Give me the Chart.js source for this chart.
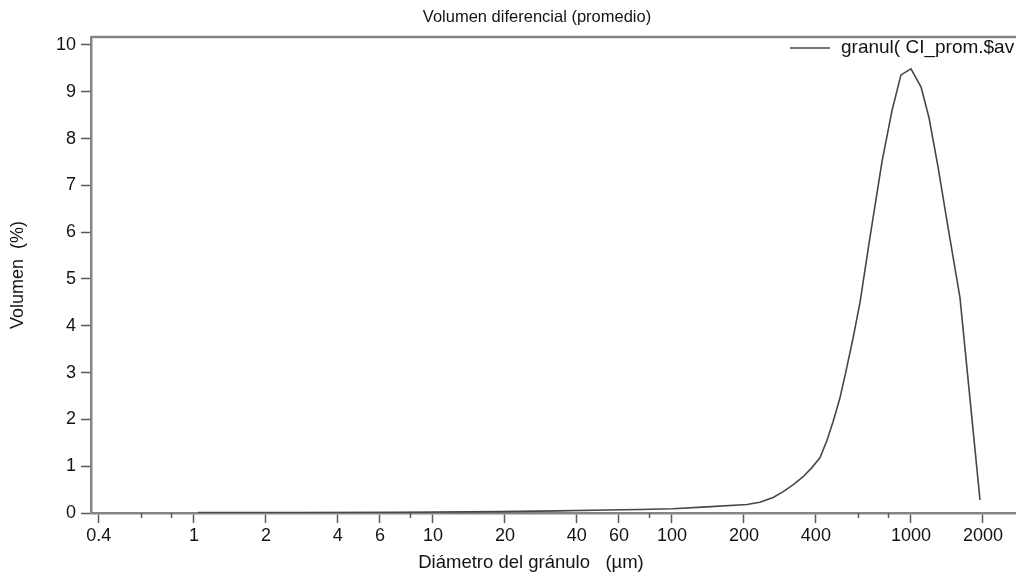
<!DOCTYPE html>
<html>
<head>
<meta charset="utf-8">
<script src="https://cdn.jsdelivr.net/npm/chart.js@4.4.1/dist/chart.umd.min.js"></script>
<style>
  html, body { margin: 0; padding: 0; background: #ffffff; overflow: hidden; }
  #wrap { width: 1016px; height: 575px; }
</style>
</head>
<body>
<div id="wrap"><canvas id="c" width="1016" height="575"></canvas></div>
<script>
// Particle size distribution: diameter (µm) vs differential volume (%)
const diameters = [1.04, 2.77, 7.3, 19.1, 33, 53.5, 73.5, 101, 140, 206, 233, 265, 291, 321, 353, 385, 416, 445, 472, 504, 533, 573, 612, 674, 756, 833, 908, 1000, 1102, 1189, 1297, 1429, 1603, 1944];
const volumePct = [0.01, 0.01, 0.015, 0.03, 0.045, 0.065, 0.075, 0.09, 0.13, 0.18, 0.23, 0.33, 0.45, 0.60, 0.77, 0.97, 1.18, 1.55, 1.95, 2.45, 3.0, 3.75, 4.5, 5.9, 7.5, 8.6, 9.36, 9.49, 9.1, 8.45, 7.4, 6.1, 4.6, 0.28];

const xMajorTicks = [0.4, 1, 2, 4, 6, 10, 20, 40, 60, 100, 200, 400, 1000, 2000];
const xMinorTicks = [0.6, 0.8, 8, 80, 600, 800];
const yTicks = [0, 1, 2, 3, 4, 5, 6, 7, 8, 9, 10];

const seriesLabel = 'granul( CI_prom.$av';
const chartTitle = 'Volumen diferencial (promedio)';
const xTitle = 'Diámetro del gránulo   (µm)';
const yTitle = 'Volumen  (%)';

const FONT = 'Liberation Sans, Arial, Helvetica, sans-serif';
const TEXT = '#141414';
const AXIS = '#858585';
const TICK = '#5a5a5a';

// Frame top edge, short minor ticks, titles and the line legend
const decor = {
  id: 'decor',
  afterDraw(chart) {
    const { ctx, chartArea: a, scales } = chart;
    ctx.save();
    // top edge of the plot frame
    ctx.strokeStyle = AXIS;
    ctx.lineWidth = 2.5;
    ctx.beginPath();
    ctx.moveTo(a.left, a.top);
    ctx.lineTo(a.right, a.top);
    ctx.stroke();

    // minor ticks on the diameter axis
    ctx.strokeStyle = TICK;
    ctx.lineWidth = 1.5;
    xMinorTicks.forEach(v => {
      const px = Math.round(scales.x.getPixelForValue(v)) + 0.5;
      ctx.beginPath();
      ctx.moveTo(px, a.bottom);
      ctx.lineTo(px, a.bottom + 5);
      ctx.stroke();
    });

    ctx.fillStyle = TEXT;
    ctx.textBaseline = 'middle';
    ctx.textAlign = 'center';
    ctx.font = '16.5px ' + FONT;
    ctx.fillText(chartTitle, 537, 17);
    ctx.font = '18.5px ' + FONT;
    ctx.fillText(xTitle, 531, 563);

    // legend: line sample followed by series name
    const ds = chart.data.datasets[0];
    const ly = a.top + 11;
    ctx.strokeStyle = ds.borderColor;
    ctx.lineWidth = ds.borderWidth;
    ctx.beginPath();
    ctx.moveTo(790, ly);
    ctx.lineTo(830, ly);
    ctx.stroke();
    ctx.textAlign = 'left';
    ctx.font = '19px ' + FONT;
    ctx.fillText(ds.label, 841, ly);
    ctx.restore();
  }
};

new Chart(document.getElementById('c'), {
  type: 'scatter',
  data: {
    datasets: [{
      label: seriesLabel,
      data: diameters.map((d, i) => ({ x: d, y: volumePct[i] })),
      showLine: true,
      borderColor: '#474747',
      borderWidth: 1.6,
      pointRadius: 0,
      tension: 0,
      fill: false
    }]
  },
  options: {
    responsive: false,
    animation: false,
    layout: { padding: { top: 37, left: 0, right: 0, bottom: 0 } },
    plugins: {
      legend: { display: false },
      title: { display: false },
      tooltip: { enabled: false }
    },
    scales: {
      x: {
        type: 'logarithmic',
        position: 'bottom',
        min: 0.371,
        max: 2750,
        afterFit(s) { s.height = 62; },
        afterBuildTicks(s) {
          s.ticks = [...xMajorTicks, ...xMinorTicks].sort((a, b) => a - b).map(v => ({ value: v }));
        },
        ticks: {
          autoSkip: false,
          maxRotation: 0,
          minRotation: 0,
          padding: 2,
          color: TEXT,
          font: { family: FONT, size: 18 },
          callback: v => (xMajorTicks.includes(v) ? String(v) : '')
        },
        grid: {
          drawOnChartArea: false,
          tickLength: 10,
          tickWidth: 1.5,
          tickColor: c => (c.tick && xMajorTicks.includes(c.tick.value) ? TICK : 'rgba(0,0,0,0)')
        },
        border: { display: true, color: AXIS, width: 2.5 },
        title: { display: false }
      },
      y: {
        min: 0,
        max: 10.17,
        afterFit(s) { s.width = 91; },
        afterBuildTicks(s) { s.ticks = yTicks.map(v => ({ value: v })); },
        ticks: {
          padding: 5,
          color: TEXT,
          font: { family: FONT, size: 18 }
        },
        grid: {
          drawOnChartArea: false,
          tickLength: 10,
          tickWidth: 1.5,
          tickColor: TICK
        },
        border: { display: true, color: AXIS, width: 2.5 },
        title: {
          display: true,
          text: yTitle,
          color: TEXT,
          font: { family: FONT, size: 18 },
          padding: { top: 7, bottom: 0 }
        }
      }
    }
  },
  plugins: [decor]
});
</script>
</body>
</html>
